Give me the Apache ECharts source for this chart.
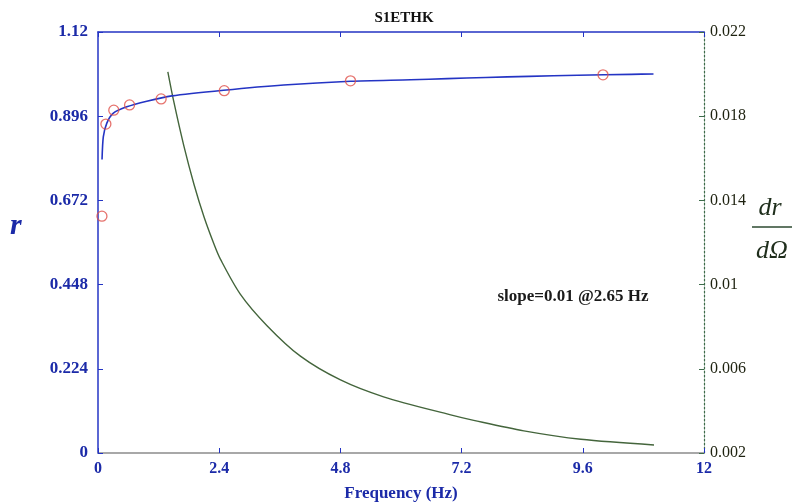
<!DOCTYPE html>
<html>
<head>
<meta charset="utf-8">
<title>S1ETHK</title>
<script src="https://cdn.jsdelivr.net/npm/echarts@6/dist/echarts.min.js"></script>
<style>
  html, body { margin: 0; padding: 0; background: #fff; }
  #chart { width: 792px; height: 504px; }
</style>
</head>
<body>
<div id="chart"></div>
<script>
// Measured responses (Hz, r)
const freqObs = [0.078, 0.156, 0.3125, 0.625, 1.25, 2.5, 5, 10];
const rObs = [0.630, 0.875, 0.912, 0.926, 0.942, 0.964, 0.990, 1.006];

// Fitted r curve
const freqFit = [0.08, 0.105, 0.173, 0.304, 0.569, 0.966, 1.462, 2.486, 3.677, 5.0, 6.19, 6.919, 7.679, 8.532, 9.498, 10.556, 11.0];
const rFit = [0.781, 0.841, 0.877, 0.904, 0.921, 0.936, 0.950, 0.965, 0.979, 0.989, 0.993, 0.996, 0.999, 1.002, 1.005, 1.0074, 1.0083];

// Slope dr/dΩ of the fitted curve
const freqSlope = [1.383, 1.5, 1.7, 1.9, 2.1, 2.3, 2.421, 2.817, 3.347, 4.008, 4.802, 5.655, 6.984, 7.44, 8.433, 9.563, 11.01];
const slopeVals = [0.02011, 0.0187, 0.01659, 0.01477, 0.01321, 0.01190, 0.01122, 0.00955, 0.00805, 0.00660, 0.00547, 0.00467, 0.00381, 0.00355, 0.00305, 0.00265, 0.00238];

// Axis ticks
const xTicks = [0, 2.4, 4.8, 7.2, 9.6, 12];
const rTicks = [0, 0.224, 0.448, 0.672, 0.896, 1.12];
const slopeTicks = [0.002, 0.006, 0.010, 0.014, 0.018, 0.022];

const blue = '#2434c4';
const labelBlue = '#1b2aa8';
const green = '#44653c';
const serif = '"Liberation Serif", "DejaVu Serif", serif';

const zip = (a, b) => a.map((v, i) => [v, b[i]]);
const fmt = v => String(+(+v).toFixed(3));

const chart = echarts.init(document.getElementById('chart'), null, { renderer: 'canvas' });

chart.setOption({
  animation: false,
  backgroundColor: '#ffffff',
  title: {
    text: 'S1ETHK',
    left: 399, top: 6, textAlign: 'center',
    textStyle: { fontFamily: serif, fontWeight: 'bold', fontSize: 15, color: '#111' }
  },
  grid: { left: 98, right: 88, top: 32, bottom: 51, containLabel: false, outerBoundsMode: 'none' },
  xAxis: [
    {
      type: 'value', position: 'bottom', min: 0, max: 12,
      axisLine: { show: true, onZero: false, lineStyle: { color: '#8c8c8c', width: 1.5 } },
      axisTick: { show: true, inside: true, length: 5, customValues: xTicks, lineStyle: { color: blue } },
      axisLabel: {
        customValues: xTicks, formatter: fmt, margin: 8,
        fontFamily: serif, fontWeight: 'bold', fontSize: 16, color: labelBlue
      },
      splitLine: { show: false },
      name: 'Frequency (Hz)', nameLocation: 'middle', nameGap: 32,
      nameTextStyle: { fontFamily: serif, fontWeight: 'bold', fontSize: 17, color: labelBlue }
    },
    {
      type: 'value', position: 'top', min: 0, max: 12,
      axisLine: { show: true, onZero: false, lineStyle: { color: blue, width: 1.5 } },
      axisTick: { show: true, inside: true, length: 5, customValues: xTicks, lineStyle: { color: blue } },
      axisLabel: { show: false },
      splitLine: { show: false }
    }
  ],
  yAxis: [
    {
      type: 'value', position: 'left', min: 0, max: 1.12,
      axisLine: { show: true, onZero: false, lineStyle: { color: blue, width: 1.5 } },
      axisTick: { show: true, inside: true, length: 5, customValues: rTicks, lineStyle: { color: blue } },
      axisLabel: {
        customValues: rTicks, formatter: fmt, margin: 10,
        fontFamily: serif, fontWeight: 'bold', fontSize: 17, color: labelBlue
      },
      splitLine: { show: false }
    },
    {
      type: 'value', position: 'right', min: 0.002, max: 0.022,
      axisLine: { show: true, onZero: false, lineStyle: { color: '#3d6b4a', width: 1.2, type: [2, 2] } },
      axisTick: { show: true, inside: true, length: 5, customValues: slopeTicks, lineStyle: { color: '#3d6b4a' } },
      axisLabel: {
        customValues: slopeTicks, formatter: fmt, margin: 6,
        fontFamily: serif, fontSize: 16, color: '#1e2210'
      },
      splitLine: { show: false }
    }
  ],
  series: [
    {
      name: 'fit', type: 'line', xAxisIndex: 0, yAxisIndex: 0,
      data: zip(freqFit, rFit), smooth: 0.25, showSymbol: false,
      lineStyle: { color: blue, width: 1.6 }, z: 3
    },
    {
      name: 'slope', type: 'line', xAxisIndex: 0, yAxisIndex: 1,
      data: zip(freqSlope, slopeVals), smooth: 0.3, showSymbol: false,
      lineStyle: { color: green, width: 1.4 }, z: 2
    },
    {
      name: 'measured', type: 'scatter', xAxisIndex: 0, yAxisIndex: 0,
      data: zip(freqObs, rObs), symbol: 'circle', symbolSize: 10,
      itemStyle: { color: 'rgba(0,0,0,0)', borderColor: '#e0504a', borderWidth: 1.3 }, z: 4
    }
  ],
  graphic: [
    {
      type: 'text', left: 10, top: 211,
      style: { text: 'r', fontFamily: serif, fontStyle: 'italic', fontWeight: 'bold', fontSize: 30, fill: labelBlue }
    },
    {
      type: 'text', x: 770, y: 208,
      style: { text: 'dr', fontFamily: serif, fontStyle: 'italic', fontSize: 26, fill: '#1f2e1c', align: 'center', verticalAlign: 'middle' }
    },
    {
      type: 'line', shape: { x1: 752, y1: 227, x2: 792, y2: 227 },
      style: { stroke: '#2c4a30', lineWidth: 1.5 }
    },
    {
      type: 'text', x: 772, y: 251,
      style: { text: 'dΩ', fontFamily: serif, fontStyle: 'italic', fontSize: 26, fill: '#1f2e1c', align: 'center', verticalAlign: 'middle' }
    },
    {
      type: 'text', x: 573, y: 297,
      style: { text: 'slope=0.01 @2.65 Hz', fontFamily: serif, fontWeight: 'bold', fontSize: 17, fill: '#1a1a1a', align: 'center', verticalAlign: 'middle' }
    }
  ]
});
</script>
</body>
</html>
